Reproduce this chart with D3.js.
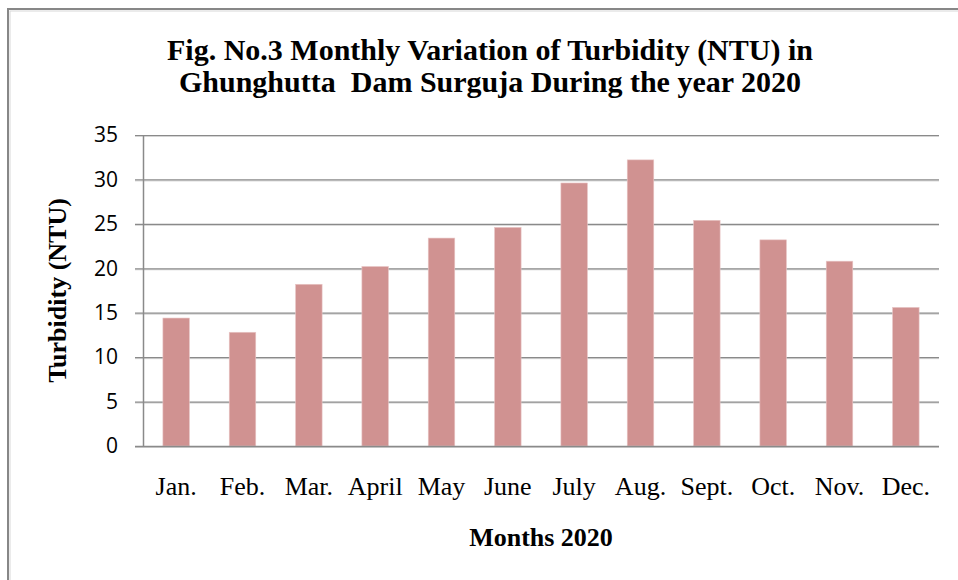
<!DOCTYPE html>
<html>
<head>
<meta charset="utf-8">
<script src="https://cdn.jsdelivr.net/npm/d3@7"></script>
<style>
html,body{margin:0;padding:0;background:#fff;}
svg{display:block;}
</style>
</head>
<body>
<svg id="chart" width="958" height="580"></svg>
<script>
const months = ["Jan.","Feb.","Mar.","April","May","June","July","Aug.","Sept.","Oct.","Nov.","Dec."];
const turbidity = [14.4,12.8,18.2,20.2,23.4,24.6,29.6,32.2,25.4,23.2,20.8,15.6];
const yTicks = [0,5,10,15,20,25,30,35];
const titleLines = ["Fig. No.3 Monthly Variation of Turbidity (NTU) in","Ghunghutta  Dam Surguja During the year 2020"];
const yLabel = "Turbidity (NTU)";
const xLabel = "Months 2020";

const svg = d3.select("#chart");
const plot = {left:143, right:939, top:135, bottom:446};

// outer frame
svg.append("rect").attr("x",8).attr("y",9).attr("width",1000).attr("height",700)
  .attr("fill","none").attr("stroke","#878787").attr("stroke-width",2);
svg.append("rect").attr("x",10).attr("y",11).attr("width",1000).attr("height",700)
  .attr("fill","none").attr("stroke","#d8d8d8").attr("stroke-width",1);

const x = d3.scaleBand().domain(months).range([plot.left, plot.right]).paddingInner(0.6).paddingOuter(0.3);
const y = d3.scaleLinear().domain([0,35]).range([plot.bottom, plot.top]);

// gridlines
const grid = svg.append("g");
grid.selectAll("line.sh").data(yTicks).join("line").attr("class","sh")
  .attr("x1",plot.left-8).attr("x2",plot.right)
  .attr("y1",d=>y(d)+1.5).attr("y2",d=>y(d)+1.5)
  .attr("stroke","#d4d4d4").attr("stroke-width",1);
grid.selectAll("line.g").data(yTicks).join("line").attr("class","g")
  .attr("x1",plot.left-8).attr("x2",plot.right)
  .attr("y1",d=>y(d)+0.5).attr("y2",d=>y(d)+0.5)
  .attr("stroke","#8a8a8a").attr("stroke-width",1.2);

// y axis
const yAxis = d3.axisLeft(y).tickValues(yTicks).tickSize(0).tickPadding(25);
const ya = svg.append("g").attr("transform",`translate(${plot.left},0)`).call(yAxis);
ya.select(".domain").remove();
ya.selectAll("text").attr("font-family","'Open Sans', 'Liberation Sans', sans-serif")
  .attr("font-size",21).attr("fill","#000");
svg.append("line").attr("x1",plot.left+0.5).attr("x2",plot.left+0.5)
  .attr("y1",plot.top).attr("y2",plot.bottom+1).attr("stroke","#8a8a8a").attr("stroke-width",1.5);

// bars
svg.append("g").selectAll("rect").data(months).join("rect")
  .attr("x",d=>x(d)).attr("width",x.bandwidth())
  .attr("y",(d,i)=>y(turbidity[i])).attr("height",(d,i)=>y(0)-y(turbidity[i]))
  .attr("fill","#d09291").attr("stroke","#e8c6c6").attr("stroke-width",0.6);

// x axis
const xAxis = d3.axisBottom(x).tickSize(0).tickPadding(31);
const xa = svg.append("g").attr("transform",`translate(0,${plot.bottom})`).call(xAxis);
xa.select(".domain").remove();
xa.selectAll("text").attr("font-family","'Liberation Serif','Times New Roman',serif")
  .attr("font-size",26).attr("fill","#000");
svg.append("line").attr("x1",plot.left-8).attr("x2",plot.right)
  .attr("y1",plot.bottom+0.5).attr("y2",plot.bottom+0.5).attr("stroke","#8a8a8a").attr("stroke-width",1.5);

// title
svg.append("g").selectAll("text").data(titleLines).join("text")
  .attr("x",490).attr("y",(d,i)=>60+i*32).attr("text-anchor","middle")
  .attr("font-family","'Liberation Serif','Times New Roman',serif")
  .attr("font-weight","bold").attr("font-size",30)
  .style("white-space","pre").text(d=>d);

// axis titles
svg.append("text").attr("transform",`translate(66,${(plot.top+plot.bottom)/2}) rotate(-90)`)
  .attr("text-anchor","middle").attr("font-family","'Liberation Serif','Times New Roman',serif")
  .attr("font-weight","bold").attr("font-size",26).text(yLabel);
svg.append("text").attr("x",(plot.left+plot.right)/2).attr("y",546)
  .attr("text-anchor","middle").attr("font-family","'Liberation Serif','Times New Roman',serif")
  .attr("font-weight","bold").attr("font-size",26).text(xLabel);
</script>
</body>
</html>
